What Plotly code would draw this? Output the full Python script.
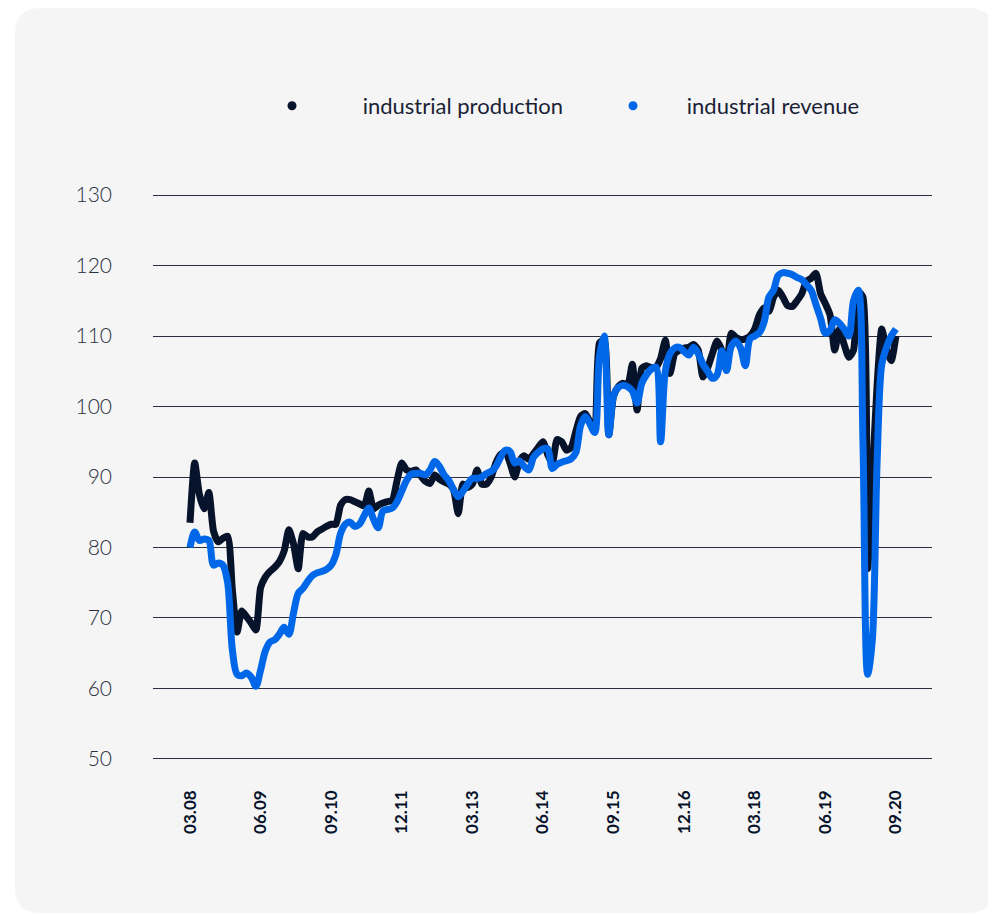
import plotly.graph_objects as go

# ---- data (monthly, 03.2008 .. 09.2020) ----
production = [
    83.5, 92.0, 87.5, 85.5, 87.8, 82.3, 80.8, 81.3, 81.6, 74.0,
    68.0, 71.0, 70.2, 69.3, 68.3, 74.3, 75.8, 76.6, 77.2, 78.0,
    79.5, 82.5, 80.5, 77.0, 82.0, 81.5, 81.5, 82.2, 82.6, 83.0,
    83.3, 83.3, 86.0, 86.8, 86.8, 86.5, 86.2, 85.9, 88.0, 85.5,
    86.0, 86.3, 86.5, 86.7, 89.5, 92.0, 91.0, 90.8, 91.0, 90.2,
    89.4, 89.1, 90.3, 89.7, 89.3, 89.0, 88.2, 84.8, 89.0, 88.5,
    89.0, 91.0, 89.0, 89.0, 90.0, 92.0, 93.2, 93.6, 92.0, 90.0,
    92.2, 93.0, 92.5, 93.3, 94.2, 95.0, 93.2, 92.0, 95.3, 95.0,
    93.8, 94.2, 96.5, 98.6, 99.0, 97.8, 96.7, 109.0, 109.4, 96.0,
    101.5, 102.8, 103.3, 103.0, 106.0, 99.5, 105.4, 105.8, 105.5, 105.6,
    106.8, 109.4, 104.7, 107.5, 108.0, 108.3, 108.4, 108.8, 108.0, 104.2,
    105.5, 107.5, 109.3, 108.0, 105.3, 110.4, 109.8, 109.5, 109.6, 110.0,
    111.0, 113.0, 114.0, 113.5, 115.5, 116.5, 115.5, 114.3, 114.2, 115.0,
    116.0, 117.8, 118.2, 118.9, 116.0, 114.6, 113.0, 108.0, 111.0, 108.8,
    107.0, 108.0, 116.3, 115.5, 77.0, 90.0, 103.0, 111.0, 108.0, 106.5,
    110.0,
]

revenue = [
    80.0, 82.2, 81.0, 81.2, 81.0, 77.5, 77.8, 77.5, 75.0, 65.5,
    62.0, 61.8, 62.2, 61.6, 60.3, 62.6, 65.3, 66.6, 66.9, 67.7,
    68.7, 67.7, 70.7, 73.5, 74.2, 75.2, 76.0, 76.4, 76.6, 76.9,
    77.5, 79.0, 82.0, 83.3, 83.6, 83.0, 83.3, 84.5, 85.6, 84.0,
    82.8, 85.2, 85.4, 85.6, 86.5, 88.0, 89.5, 90.4, 90.5, 90.5,
    90.3, 91.0, 92.2, 91.5, 90.3, 89.5, 88.2, 87.2, 88.0, 89.0,
    89.8, 89.8, 90.0, 90.5, 90.8, 91.5, 92.8, 93.8, 93.6, 92.0,
    92.3, 91.5, 91.0, 92.8, 93.5, 94.0, 94.0, 91.2, 91.8, 92.1,
    92.3, 92.6, 93.5, 97.3, 98.6, 97.5, 96.3, 107.0, 110.0, 96.0,
    101.5, 102.7, 103.0, 102.8, 102.2, 100.5, 103.3, 104.5, 105.3, 105.6,
    95.0, 105.0, 107.5, 108.3, 108.4, 107.8, 107.3, 108.4, 107.5, 106.0,
    105.0, 104.0, 104.5, 107.9, 105.1, 108.5, 109.3, 108.3, 105.8, 109.6,
    110.0, 110.5, 112.0, 115.5, 116.5, 118.6, 119.0, 118.9, 118.7, 118.3,
    118.0, 117.3, 116.5, 114.5, 112.5, 110.4, 110.8, 112.3, 111.8, 111.0,
    110.0, 115.0, 116.5, 95.0, 62.0, 67.0, 92.0, 106.0, 108.4, 110.0,
    111.0,
]

tick_labels = ["03.08", "06.09", "09.10", "12.11", "03.13", "06.14",
               "09.15", "12.16", "03.18", "06.19", "09.20"]
tick_step = 15  # months between labels
y_ticks = [50, 60, 70, 80, 90, 100, 110, 120, 130]

series_names = ["industrial production", "industrial revenue"]
series_colors = ["#07132b", "#0068e8"]

months = list(range(len(production)))
tick_positions = [i * tick_step for i in range(len(tick_labels))]

# ---- geometry (pixels, page coords; page has an 8px body margin) ----
OFF = 8
W, H = 996 - OFF, 915 - OFF
PL, PR, PT, PB = 153 - OFF, 932 - OFF, 188 - OFF, 766 - OFF  # plot area in figure px
X0_PX = 190 - OFF     # pixel of first month
MONTH_PX = 4.706


def px_x(p):
    return (p - OFF - PL) / (PR - PL)


def px_y(p):
    return 1 - (p - OFF - PT) / (PB - PT)


fig = go.Figure()

for name, vals, col, smooth in [
    (series_names[0], production, series_colors[0], 0.6),
    (series_names[1], revenue, series_colors[1], 0.9),
]:
    fig.add_trace(go.Scatter(
        x=months, y=vals, mode="lines", name=name, showlegend=False,
        line=dict(color=col, width=7, shape="spline", smoothing=smooth),
        hoverinfo="skip",
    ))

# legend entries (dots)
for name, col, pad in zip(series_names, series_colors, [9, 6]):
    fig.add_trace(go.Scatter(
        x=[None], y=[None], mode="markers", name="\u00a0" * pad + name,
        marker=dict(color=col, size=9, symbol="circle"),
        showlegend=True,
    ))

# rounded panel background (page coords)
x0, x1, y0, y1, r = 15, 994, 8, 913, 26
pts = [
    ("M", x0 + r, y0), ("L", x1 - r, y0), ("Q", x1, y0, x1, y0 + r),
    ("L", x1, y1 - r), ("Q", x1, y1, x1 - r, y1), ("L", x0 + r, y1),
    ("Q", x0, y1, x0, y1 - r), ("L", x0, y0 + r), ("Q", x0, y0, x0 + r, y0),
]
path = ""
for p in pts:
    coords = p[1:]
    s = [f"{px_x(coords[k]):.5f},{px_y(coords[k + 1]):.5f}" for k in range(0, len(coords), 2)]
    path += p[0] + " ".join(s) + " "
path += "Z"
fig.add_shape(type="path", path=path, xref="paper", yref="paper",
              fillcolor="#f5f5f5", line=dict(width=0), layer="below")

x_min = -(X0_PX - PL) / MONTH_PX
x_max = (PR - X0_PX) / MONTH_PX
fig.update_layout(
    width=W, height=H,
    margin=dict(l=PL, r=W - PR, t=PT, b=H - PB, pad=0),
    paper_bgcolor="white", plot_bgcolor="rgba(0,0,0,0)",
    font=dict(family="Lato, sans-serif", color="#1a1f36"),
    showlegend=True,
    legend=dict(
        orientation="h", xref="container", yref="container",
        x=(294 - 22 - OFF) / W, y=1 - (106 - OFF) / H, xanchor="left", yanchor="middle",
        font=dict(size=22, color="#1a1f36", family="Lato, sans-serif", weight=400),
        entrywidth=296, entrywidthmode="pixels", bgcolor="rgba(0,0,0,0)",
        itemclick=False,
    ),
    xaxis=dict(
        range=[x_min, x_max], tickmode="array", tickvals=tick_positions,
        ticktext=tick_labels, tickangle=-90, showgrid=False, zeroline=False,
        showline=False, ticks="", ticklabelstandoff=20,
        tickfont=dict(size=17, color="#07132b", family="Lato, sans-serif", weight="bold"),
    ),
    yaxis=dict(
        range=[49, 131], tickmode="array", tickvals=y_ticks,
        showgrid=True, gridcolor="#2a2f40", gridwidth=1.3, zeroline=False,
        showline=False, ticks="", ticklabelstandoff=40,
        tickfont=dict(size=21, color="#2a2f40", family="Lato, sans-serif", weight=300),
    ),
)

fig.write_html("out.html")
